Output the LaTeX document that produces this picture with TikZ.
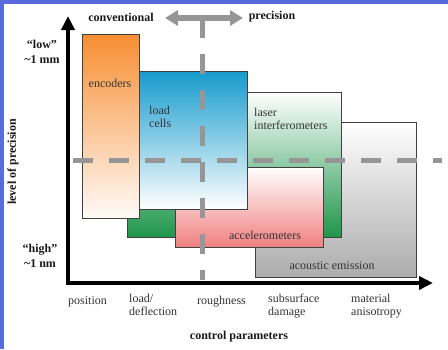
\documentclass[tikz,border=0pt]{standalone}
\usepackage{fontspec}
\setmainfont{Liberation Serif}
\usetikzlibrary{arrows.meta}
\definecolor{frameblue}{RGB}{88,108,220}
\definecolor{orangec}{RGB}{247,142,50}
\definecolor{bluec}{RGB}{22,155,205}
\definecolor{greenc}{RGB}{30,150,75}
\definecolor{pinkc}{RGB}{240,128,128}
\definecolor{grayc}{RGB}{172,172,172}
\definecolor{dashgrey}{RGB}{150,150,150}
\tikzset{
	chartbox/.style = {draw=black!75, line width=0.7pt},% boite de mesure
	box_lbl/.style = {inner sep=0pt, text=black!80,
		font=\fontsize{12}{12.5}\selectfont},
	par_lbl/.style = {box_lbl, anchor=north west, align=left},% parametre
	ax_lbl/.style = {inner sep=0pt, align=center, text=black!90,
		font=\fontsize{12}{14.5}\selectfont\bfseries},
	grid_dash/.style = {draw=dashgrey, line width=5pt,
		dash pattern=on 20pt off 16pt}
}

\begin{document}
\begin{tikzpicture}[x=1pt,y=-1pt,>={Triangle[length=14pt,width=13pt]}]
\useasboundingbox (0,0) rectangle (448,349);
\fill[frameblue] (0,0) rectangle (448,4);
\fill[frameblue] (0,0) rectangle (4,349);

% boxes, back to front
\draw[chartbox, top color=white, bottom color=grayc] (255,122) rectangle (416,277);
\draw[chartbox, top color=white, bottom color=greenc] (127,92) rectangle (341,237);
\draw[chartbox, top color=white, bottom color=pinkc] (175,167) rectangle (323,247);
\draw[chartbox, top color=bluec, bottom color=white] (139,71) rectangle (247,209);
\draw[chartbox, top color=orangec, bottom color=orangec!4] (82,34) rectangle (139,218);

\node[box_lbl] (enc) at (110,83) {encoders};
\node[box_lbl, anchor=west, align=left] (lc) at (149,117) {load\\cells};
\node[box_lbl, anchor=west, align=left] (li) at (254,119) {laser\\interferometers};
\node[box_lbl] (acc) at (265,235) {accelerometers};
\node[box_lbl] (ae) at (332,266) {acoustic emission};

% dashed guides
\coordinate (hl) at (73,160);
\coordinate (hr) at (442,160);
\coordinate (stem) at (202,18);
\coordinate (vb) at (202,280);
\draw[grid_dash] (hl) -- (hr);
\draw[grid_dash] (stem) -- (vb);

% conventional <-> precision
\coordinate (cl) at (165,18);
\coordinate (cr) at (243,18);
\draw[dashgrey, line width=6pt, <->, >={Triangle[length=13pt,width=15pt]}] (cl) -- (cr);

% axes
\coordinate (org) at (68,283);
\coordinate (ytop) at (68,16);
\coordinate (xend) at (433,283);
\draw[line width=4pt, line cap=rect, ->] (org) -- (ytop);
\draw[line width=4pt, line cap=rect, ->] (org) -- (xend);

\node[ax_lbl] (conv) at (121,17) {conventional};
\node[ax_lbl] (prec) at (272,17) {precision};
\node[ax_lbl] (lo) at (42,52) {``low''\\\textasciitilde1 mm};
\node[ax_lbl] (hi) at (40,256) {``high''\\\textasciitilde1 nm};
\node[ax_lbl, rotate=90] (lvl) at (13,162) {level of precision};

\node[par_lbl] (pos) at (68,296) {position};
\node[par_lbl] (ld) at (129,294) {load/\\deflection};
\node[par_lbl] (rgh) at (197,296) {roughness};
\node[par_lbl] (sub) at (268,294) {subsurface\\damage};
\node[par_lbl] (mat) at (351,294) {material\\anisotropy};
\node[ax_lbl] (cp) at (239,337) {control parameters};
\end{tikzpicture}
\end{document}
